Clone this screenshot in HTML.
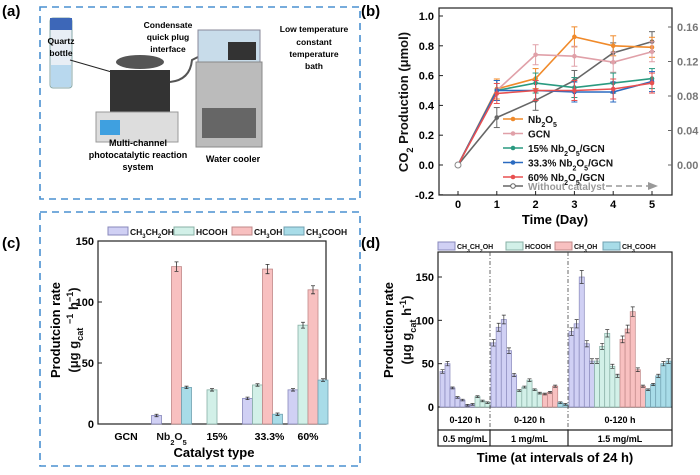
<!DOCTYPE html>
<html><head><meta charset="utf-8"><style>
body{margin:0;background:#fff;width:700px;height:470px;overflow:hidden;font-family:"Liberation Sans",Arial,sans-serif}
svg text{font-family:"Liberation Sans",Arial,sans-serif;font-weight:bold}
</style></head><body>
<svg id="s" width="700" height="470" viewBox="0 0 700 470">
<g>
<text x="2" y="16" font-size="15">(a)</text>
<rect x="40" y="7" width="320" height="192" fill="none" stroke="#4a90d0" stroke-width="1.6" stroke-dasharray="7,5"/>
<rect x="50" y="18" width="22" height="70" rx="3" fill="#e8eef5" stroke="#8aa"/>
<rect x="50" y="18" width="22" height="12" fill="#3d67b8"/>
<rect x="51" y="65" width="20" height="22" fill="#b8d8ee"/>
<text x="61" y="44" font-size="8.5" text-anchor="middle">Quartz</text>
<text x="61" y="56" font-size="8.5" text-anchor="middle">bottle</text>
<line x1="70" y1="60" x2="122" y2="75" stroke="#222" stroke-width="1"/>
<ellipse cx="140" cy="62" rx="24" ry="7" fill="#555"/>
<rect x="110" y="70" width="60" height="48" fill="#333"/>
<rect x="96" y="112" width="82" height="30" fill="#ddd" stroke="#999"/>
<rect x="100" y="120" width="20" height="15" fill="#3fa0e0"/>
<text x="138" y="146" font-size="9" text-anchor="middle">Multi-channel</text>
<text x="138" y="158" font-size="9" text-anchor="middle">photocatalytic reaction</text>
<text x="138" y="170" font-size="9" text-anchor="middle">system</text>
<text x="168" y="28" font-size="8.5" text-anchor="middle">Condensate</text>
<text x="168" y="40" font-size="8.5" text-anchor="middle">quick plug</text>
<text x="168" y="52" font-size="8.5" text-anchor="middle">interface</text>
<path d="M170 82 Q190 80 192 60 L200 56" fill="none" stroke="#555" stroke-width="2"/>
<rect x="198" y="30" width="62" height="32" fill="#c8dcea" stroke="#889"/>
<rect x="228" y="42" width="28" height="18" fill="#333"/>
<rect x="196" y="62" width="66" height="85" fill="#bbb" stroke="#888"/>
<rect x="202" y="108" width="54" height="30" fill="#666"/>
<text x="233" y="162" font-size="9" text-anchor="middle">Water cooler</text>
<text x="314" y="32" font-size="8.5" text-anchor="middle">Low temperature</text>
<text x="314" y="45" font-size="8.5" text-anchor="middle">constant</text>
<text x="314" y="57" font-size="8.5" text-anchor="middle">temperature</text>
<text x="314" y="69" font-size="8.5" text-anchor="middle">bath</text>
</g>
<text x="361" y="16" font-size="15">(b)</text>
<text x="2" y="248" font-size="15">(c)</text>
<text x="361" y="248" font-size="15">(d)</text>
<rect x="40" y="212" width="320" height="254" fill="none" stroke="#4a90d0" stroke-width="1.6" stroke-dasharray="7,5"/>
<g id="gb"></g><g id="gc"></g><g id="gd"></g>
</svg>
<script>
// ---- panel b data
const bDays=[0,1,2,3,4,5];
const bNames=["Nb2O5","GCN","15% Nb2O5/GCN","33.3% Nb2O5/GCN","60% Nb2O5/GCN"];
const bNb=[0,0.51,0.58,0.86,0.80,0.79];
const bGCN=[0,0.50,0.74,0.73,0.69,0.76];
const b15=[0,0.50,0.55,0.52,0.55,0.58];
const b33=[0,0.50,0.50,0.49,0.49,0.56];
const b60=[0,0.48,0.50,0.50,0.51,0.55];
const bNone=[0,0.055,0.075,0.098,0.130,0.143];
const bLeftTicks=[-0.2,0,0.2,0.4,0.6,0.8,1.0];
const bRightTicks=[0,0.04,0.08,0.12,0.16];
// ---- panel c data
const cCats=["GCN","Nb2O5","15%","33.3%","60%"];
const cProducts=["CH3CH2OH","HCOOH","CH3OH","CH3COOH"];
const cEtOH=[0,7,0,21,28];
const cHCOOH=[0,0,28,32,81];
const cMeOH=[0,129,0,127,110];
const cAcOH=[0,30,0,8,36];
const cTicks=[0,50,100,150];
// ---- panel d data
const dG1=[41,50,22,11,8,2,3,12,7,5];
const dG1c=[0,0,0,0,0,0,0,1,1,1];
const dG2=[74,92,101,65,37,19,23,31,20,16,15,17,24,5,3];
const dG2c=[0,0,0,0,0,1,1,1,1,1,2,2,2,3,3];
const dG3=[87,96,150,73,53,53,70,85,47,36,78,90,110,43,24,20,26,36,50,53];
const dG3c=[0,0,0,0,0,1,1,1,1,1,2,2,2,2,2,3,3,3,3,3];
const dTicks=[0,50,100,150];

const NS="http://www.w3.org/2000/svg";
function mk(p,t,a,txt){const e=document.createElementNS(NS,t);for(const k in a)e.setAttribute(k,a[k]);if(txt!==undefined)e.textContent=txt;p.appendChild(e);return e;}
function sub(p,x,y,parts,size,anchor,fill){const t=mk(p,"text",{x:x,y:y,"font-size":size,"text-anchor":anchor||"start",fill:fill||"#111"});parts.forEach(q=>{const ts=document.createElementNS(NS,"tspan");ts.textContent=q[0];if(q[1]){ts.setAttribute("baseline-shift",q[1]);ts.setAttribute("font-size",size*0.7);}t.appendChild(ts);});return t;}

// ---- panel b
(function(){
const g=document.getElementById("gb");
const L=439,R=672,T=8,B=195;
const x=d=>458+d*38.8, y=v=>165-v*149, yr=v=>165-v*862.5;
const ax=mk(g,"rect",{x:L,y:T,width:R-L,height:B-T,fill:"none",stroke:"#222","stroke-width":1.2});


bLeftTicks.forEach(v=>{mk(g,"line",{x1:L,x2:L+4,y1:y(v),y2:y(v),stroke:"#222"});const t=mk(g,"text",{x:L-5,y:y(v)+4,"font-size":11,"text-anchor":"end"},v.toFixed(1));});
bRightTicks.forEach(v=>{mk(g,"line",{x1:R,x2:R-4,y1:yr(v),y2:yr(v),stroke:"#666"});const t=mk(g,"text",{x:R+5,y:yr(v)+4,"font-size":11,fill:"#777"},v.toFixed(2));});
bDays.forEach(d=>{mk(g,"line",{x1:x(d),x2:x(d),y1:B,y2:B-4,stroke:"#222"});const t=mk(g,"text",{x:x(d),y:B+13,"font-size":11,"text-anchor":"middle"},d);});
const xt=mk(g,"text",{x:555,y:224,"font-size":13,"text-anchor":"middle"},"Time (Day)");

const yt=sub(g,0,0,[["CO"],["2","sub"],[" Production (μmol)"]],13,"middle");
yt.setAttribute("transform","translate(408,102) rotate(-90)");

const series=[[bNb,"#f08a2a","s"],[bGCN,"#e0a0a8","c"],[b15,"#2a9a80","t"],[b33,"#2a6ac0","v"],[b60,"#e85050","d"]];
const drawLine=(vals,col,fy,name)=>{const pts=vals.map((v,i)=>x(bDays[i])+","+fy(v)).join(" ");const pl=mk(g,"polyline",{points:pts,fill:"none",stroke:col,"stroke-width":1.6});
vals.forEach((v,i)=>{if(i>0){mk(g,"line",{x1:x(bDays[i]),x2:x(bDays[i]),y1:fy(v)-10,y2:fy(v)+10,stroke:col,"stroke-width":1});mk(g,"line",{x1:x(bDays[i])-3,x2:x(bDays[i])+3,y1:fy(v)-10,y2:fy(v)-10,stroke:col});mk(g,"line",{x1:x(bDays[i])-3,x2:x(bDays[i])+3,y1:fy(v)+10,y2:fy(v)+10,stroke:col});}const p=mk(g,"circle",{cx:x(bDays[i]),cy:fy(v),r:2.3,fill:col});});};
drawLine(bNone,"#666",yr,"series-without-catalyst");
series.forEach((s,i)=>drawLine(s[0],s[1],y,"series-"+bNames[i].replace(/[^a-z0-9]+/gi,'-').toLowerCase()));
mk(g,"circle",{cx:x(0),cy:y(0),r:3,fill:"#fff",stroke:"#888"});
const lab=[[["Nb"],["2","sub"],["O"],["5","sub"]],[["GCN"]],[["15% Nb"],["2","sub"],["O"],["5","sub"],["/GCN"]],[["33.3% Nb"],["2","sub"],["O"],["5","sub"],["/GCN"]],[["60% Nb"],["2","sub"],["O"],["5","sub"],["/GCN"]]];
series.forEach((s,i)=>{const ly=119+i*14.5;const ln=mk(g,"line",{x1:503,x2:523,y1:ly,y2:ly,stroke:s[1],"stroke-width":1.6});mk(g,"circle",{cx:513,cy:ly,r:2.3,fill:s[1]});sub(g,528,ly+4,lab[i],10);});
const ly=186;mk(g,"line",{x1:503,x2:523,y1:ly,y2:ly,stroke:"#666","stroke-width":1.6});mk(g,"circle",{cx:513,cy:ly,r:2.3,fill:"#fff",stroke:"#666"});
mk(g,"text",{x:528,y:ly+4,"font-size":10,fill:"#999"},"Without catalyst");
mk(g,"line",{x1:606,x2:648,y1:ly,y2:ly,stroke:"#999","stroke-width":1.6,"stroke-dasharray":"6,4"});
mk(g,"path",{d:"M648 182 L658 186 L648 190 Z",fill:"#999"});
})();

const prodCols=[["#d0d0f4","#8888bb"],["#d2f0e8","#88b0a6"],["#f8c0c0","#c08888"],["#a8dce8","#70a0b0"]];
const prodLabels=[[["CH"],["3","sub"],["CH"],["2","sub"],["OH"]],[["HCOOH"]],[["CH"],["3","sub"],["OH"]],[["CH"],["3","sub"],["COOH"]]];
// ---- panel c
(function(){
const g=document.getElementById("gc");
const L=98,R=326,T=241,B=424;
const y=v=>B-v*(B-T)/150;
const fr=mk(g,"rect",{x:L,y:T,width:R-L,height:B-T,fill:"none",stroke:"#222","stroke-width":1.2});

cTicks.forEach(v=>{mk(g,"line",{x1:L,x2:L+4,y1:y(v),y2:y(v),stroke:"#222"});const t=mk(g,"text",{x:L-4,y:y(v)+4,"font-size":11,"text-anchor":"end"},v);});
const series=[cEtOH,cHCOOH,cMeOH,cAcOH];
cCats.forEach((c,i)=>{const gx=106+i*45.5;series.forEach((s,j)=>{const v=s[i];if(v<=0)return;const bx=gx+j*10;const r=mk(g,"rect",{x:bx,y:y(v),width:10,height:B-y(v),fill:prodCols[j][0],stroke:prodCols[j][1],"stroke-width":0.8});const e=Math.max(1,v*0.03);mk(g,"path",{d:`M${bx+5} ${y(v+e)}V${y(v-e)}M${bx+3} ${y(v+e)}H${bx+7}M${bx+3} ${y(v-e)}H${bx+7}`,stroke:"#333","stroke-width":0.8,fill:"none"});});
const lx=gx+20;const t=i==1?sub(g,lx,440,[["Nb"],["2","sub"],["O"],["5","sub"]],10.5,"middle"):mk(g,"text",{x:i==3?lx+7:lx,y:440,"font-size":10.5,"text-anchor":"middle"},c);});
const xt=mk(g,"text",{x:214,y:457,"font-size":13,"text-anchor":"middle"},"Catalyst type");
const y1=mk(g,"text",{x:0,y:0,"font-size":13,"text-anchor":"middle",transform:"translate(60,330) rotate(-90)"},"Produtcion rate");
const y2=sub(g,0,0,[["(μg g"],["cat","sub"],[" "],["−1","super"],[" h"],["−1","super"],[")"]],13,"middle");y2.setAttribute("transform","translate(78,330) rotate(-90)");
[108,174,232,284].forEach((lx,j)=>{const r=mk(g,"rect",{x:lx,y:227,width:20,height:8,fill:prodCols[j][0],stroke:prodCols[j][1]});sub(g,lx+22,235,prodLabels[j],8.5);});
})();

// ---- panel d
(function(){
const g=document.getElementById("gd");
const L=438,R=672,T=252,B=407;
const y=v=>B-v*130/150;
const fr=mk(g,"rect",{x:L,y:T,width:R-L,height:446-T,fill:"none",stroke:"#222","stroke-width":1.2});

mk(g,"line",{x1:L,x2:R,y1:B,y2:B,stroke:"#222","stroke-width":1.2});
mk(g,"line",{x1:L,x2:R,y1:430,y2:430,stroke:"#222","stroke-width":1.2});
dTicks.forEach(v=>{mk(g,"line",{x1:L,x2:L+4,y1:y(v),y2:y(v),stroke:"#222"});const t=mk(g,"text",{x:L-4,y:y(v)+4,"font-size":11,"text-anchor":"end"},v);});
const groups=[[dG1,dG1c,440,490],[dG2,dG2c,491,568],[dG3,dG3c,569,671]];
groups.forEach((gr,gi)=>{const [vals,cls,x0,x1]=gr;const w=(x1-x0)/vals.length;vals.forEach((v,i)=>{const bx=x0+i*w;const r=mk(g,"rect",{x:bx,y:y(v),width:w,height:B-y(v),fill:prodCols[cls[i]][0],stroke:prodCols[cls[i]][1],"stroke-width":0.7});const e=Math.max(1,v*0.05);mk(g,"path",{d:`M${bx+w/2} ${y(v+e)}V${y(v-e)}M${bx+w/2-2} ${y(v+e)}H${bx+w/2+2}M${bx+w/2-2} ${y(v-e)}H${bx+w/2+2}`,stroke:"#333","stroke-width":0.7,fill:"none"});});
const mid=(x0+x1)/2;mk(g,"text",{x:mid,y:423,"font-size":9,"text-anchor":"middle"},"0-120 h");
mk(g,"text",{x:mid,y:442,"font-size":9,"text-anchor":"middle"},["0.5 mg/mL","1 mg/mL","1.5 mg/mL"][gi]);});
[490,568].forEach(dx=>{mk(g,"line",{x1:dx,x2:dx,y1:T,y2:430,stroke:"#444","stroke-dasharray":"4,2,1,2","stroke-width":0.8});mk(g,"line",{x1:dx,x2:dx,y1:430,y2:446,stroke:"#222","stroke-width":1.2});});
const xt=mk(g,"text",{x:555,y:462,"font-size":13,"text-anchor":"middle"},"Time (at intervals of 24 h)");
const y1=mk(g,"text",{x:0,y:0,"font-size":13,"text-anchor":"middle",transform:"translate(393,330) rotate(-90)"},"Production rate");
const y2=sub(g,0,0,[["(μg g"],["cat","sub"],[" h"],["-1","super"],[")"]],13,"middle");y2.setAttribute("transform","translate(411,330) rotate(-90)");
[438,506,555,603].forEach((lx,j)=>{const r=mk(g,"rect",{x:lx,y:242,width:17,height:8,fill:prodCols[j][0],stroke:prodCols[j][1]});sub(g,lx+19,249,prodLabels[j],7);});
})();
</script>
</body></html>
